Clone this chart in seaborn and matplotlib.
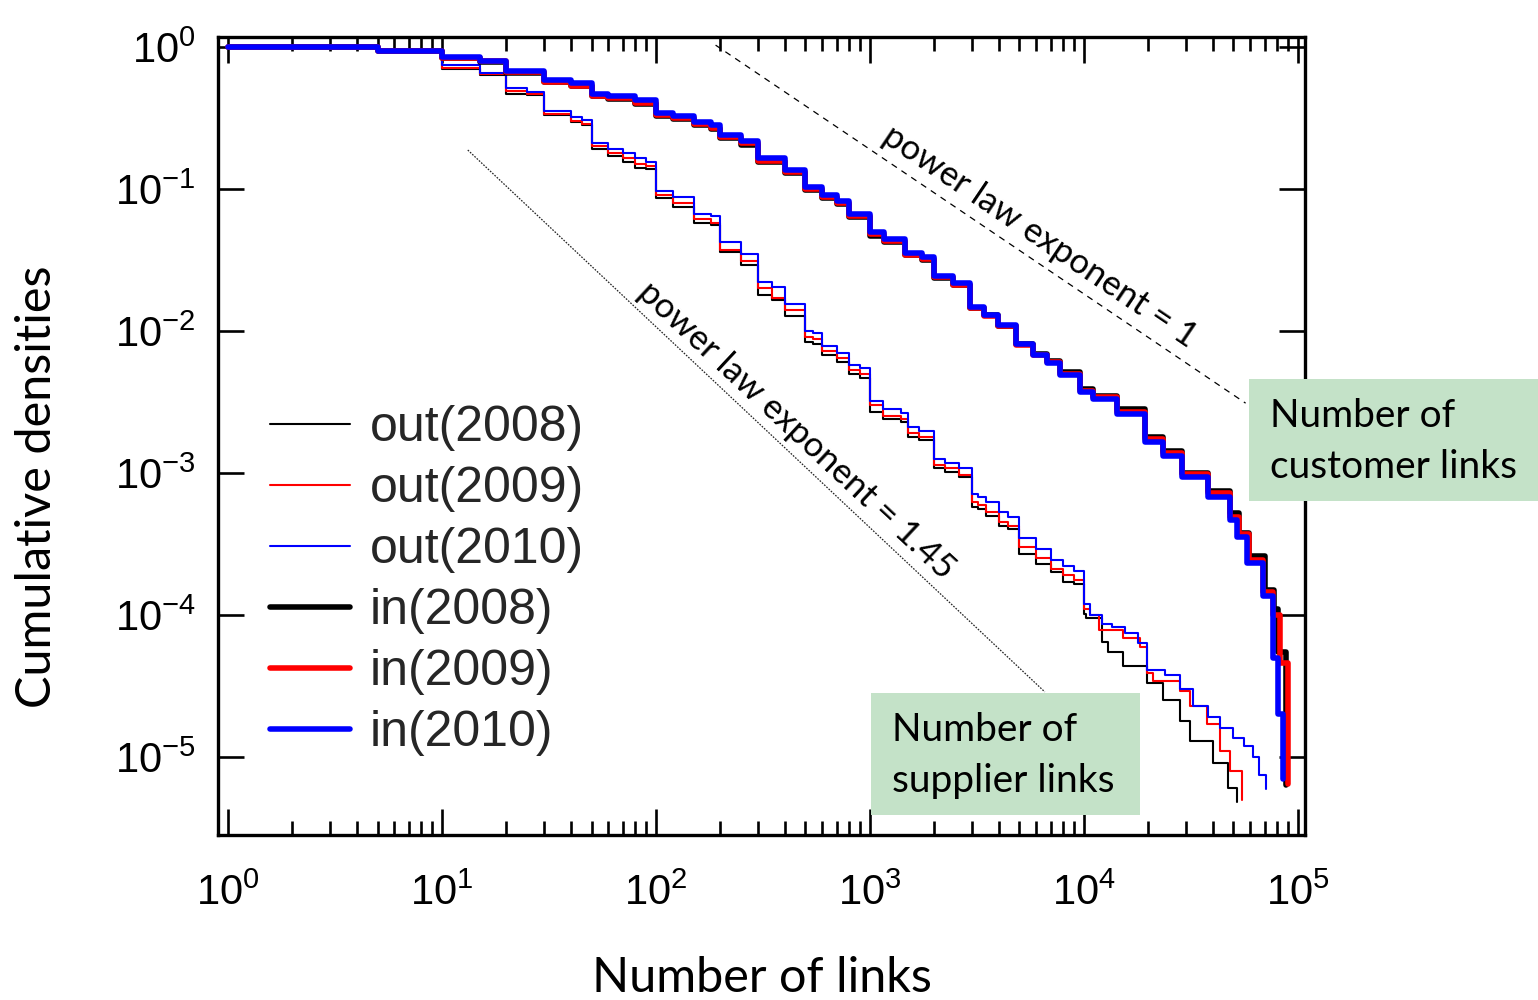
import numpy as np
import pandas as pd
import matplotlib
matplotlib.use("Agg")
import matplotlib.pyplot as plt
import seaborn as sns
from matplotlib import font_manager
from matplotlib.patches import Rectangle
from matplotlib.ticker import LogLocator, NullLocator

# ---------------------------------------------------------------------------
# Cumulative degree distributions of the supply-chain network (2008-2010)
# ---------------------------------------------------------------------------
# Number of customer links ("in"), shared step positions
IN_LINKS = [1, 5, 10, 15, 20, 30, 40, 50, 60, 80, 100, 120, 150, 180, 200, 250,
            300, 400, 500, 600, 700, 800, 1000, 1170, 1460, 1750, 2000, 2450,
            2950, 3400, 3950, 4800, 5800, 6700, 7700, 9600, 11000, 14300, 19300,
            23400, 28700, 38000, 48000]

IN_2008 = [1.0, 0.93, 0.835, 0.78, 0.655, 0.565, 0.53, 0.45, 0.43, 0.395, 0.325,
           0.31, 0.28, 0.265, 0.228, 0.205, 0.155, 0.129, 0.099, 0.087, 0.078,
           0.063, 0.047, 0.0425, 0.034, 0.0318, 0.0236, 0.021, 0.0145, 0.0129,
           0.0109, 0.0081, 0.0069, 0.0061, 0.0051, 0.0039, 0.0035, 0.0028,
           0.00178, 0.00142, 0.00100, 0.00075, 0.00052]
IN_2009 = [1.0, 0.93, 0.84, 0.79, 0.665, 0.57, 0.535, 0.455, 0.435, 0.40, 0.33,
           0.315, 0.285, 0.27, 0.232, 0.21, 0.158, 0.131, 0.100, 0.088, 0.079,
           0.064, 0.048, 0.043, 0.0342, 0.032, 0.0238, 0.0212, 0.0145, 0.0128,
           0.0108, 0.0080, 0.0068, 0.0060, 0.0050, 0.0038, 0.0034, 0.0027,
           0.00172, 0.00138, 0.00098, 0.00072, 0.00049]
IN_2010 = [1.0, 0.93, 0.846, 0.80, 0.68, 0.586, 0.555, 0.47, 0.45, 0.42, 0.344,
           0.327, 0.298, 0.282, 0.24, 0.218, 0.164, 0.136, 0.104, 0.091, 0.082,
           0.067, 0.050, 0.0445, 0.0354, 0.033, 0.0245, 0.0218, 0.0148, 0.0130,
           0.0110, 0.0081, 0.0068, 0.0059, 0.0049, 0.0037, 0.0033, 0.0026,
           0.00166, 0.00132, 0.00094, 0.00068, 0.00047]

# upper tails of the customer-link distributions
IN_TAIL_LINKS_2008 = [53000, 59000, 70000, 77000, 81000, 88500]
IN_TAIL_2008 = [3.8e-4, 2.6e-4, 1.5e-4, 1.1e-4, 5.5e-5, 6.3e-6]
IN_TAIL_LINKS_2009 = [53000, 59000, 69000, 76400, 82500, 90000]
IN_TAIL_2009 = [3.7e-4, 2.45e-4, 1.45e-4, 1.0e-4, 4.6e-5, 6.5e-6]
IN_TAIL_LINKS_2010 = [52000, 58000, 68500, 76400, 81000, 85500]
IN_TAIL_2010 = [3.55e-4, 2.33e-4, 1.35e-4, 5.0e-5, 2.0e-5, 7.0e-6]

# Number of supplier links ("out"), shared step positions
OUT_LINKS = [1, 5, 10, 15, 20, 25, 30, 40, 45, 50, 60, 70, 80, 90, 100, 120, 150,
             180, 200, 250, 300, 350, 400, 500, 540, 600, 700, 800, 900, 1000,
             1150, 1400, 1500, 1700, 2000, 2250, 2600, 3000, 3200, 3500, 4000,
             4400, 5000, 6000, 7000, 8000, 9000, 10000]

OUT_2008 = [1.0, 0.93, 0.70, 0.635, 0.465, 0.46, 0.33, 0.295, 0.28, 0.19, 0.17,
            0.155, 0.14, 0.138, 0.086, 0.075, 0.058, 0.056, 0.0357, 0.029, 0.018,
            0.0165, 0.0128, 0.0083, 0.0081, 0.0068, 0.0060, 0.0050, 0.0047,
            0.0027, 0.0024, 0.0023, 0.0018, 0.0017, 0.00108, 0.00102, 0.00093,
            0.00058, 0.00056, 0.00050, 0.00042, 0.00040, 0.00027, 0.00023,
            0.00020, 0.00017, 0.000165, 0.000102]
OUT_2009 = [1.0, 0.93, 0.708, 0.64, 0.49, 0.467, 0.337, 0.30, 0.287, 0.20, 0.18,
            0.166, 0.149, 0.145, 0.091, 0.080, 0.061, 0.058, 0.037, 0.031, 0.020,
            0.0171, 0.0141, 0.0091, 0.0088, 0.0072, 0.0064, 0.0053, 0.0050,
            0.0030, 0.0025, 0.0024, 0.0019, 0.0018, 0.00113, 0.00108, 0.00096,
            0.00062, 0.00059, 0.00053, 0.00045, 0.00042, 0.00030, 0.00025,
            0.00021, 0.00019, 0.000177, 0.000110]
OUT_2010 = [1.0, 0.93, 0.746, 0.66, 0.51, 0.485, 0.355, 0.323, 0.306, 0.21, 0.19,
            0.18, 0.164, 0.156, 0.096, 0.088, 0.067, 0.065, 0.042, 0.035, 0.022,
            0.0205, 0.0154, 0.0100, 0.0096, 0.0078, 0.0070, 0.0058, 0.0055,
            0.0032, 0.0028, 0.00264, 0.00212, 0.00198, 0.00126, 0.00117, 0.00109,
            0.00071, 0.00068, 0.00062, 0.00053, 0.00049, 0.00035, 0.000289,
            0.000245, 0.00022, 0.000205, 0.000120]

# upper tails of the supplier-link distributions
OUT_TAIL_LINKS_2008 = [10200, 12140, 13000, 15200, 19700, 23400, 28100, 31300,
                       40000, 47000, 52000]
OUT_TAIL_2008 = [9.5e-5, 6.4e-5, 5.5e-5, 4.4e-5, 3.3e-5, 2.5e-5, 1.8e-5, 1.3e-5,
                 9e-6, 6e-6, 4.8e-6]
OUT_TAIL_LINKS_2009 = [10660, 11800, 15200, 18300, 19700, 21000, 28100, 31300,
                       37600, 43200, 48000, 54700]
OUT_TAIL_2009 = [1.0e-4, 7.8e-5, 6.9e-5, 5.9e-5, 3.9e-5, 3.4e-5, 2.9e-5, 2.3e-5,
                 1.7e-5, 1.1e-5, 8e-6, 5e-6]
OUT_TAIL_LINKS_2010 = [10660, 12140, 13500, 15550, 17880, 19690, 23900, 28100,
                       32300, 38000, 43200, 50000, 56000, 61600, 66000, 70800]
OUT_TAIL_2010 = [1.0e-4, 8.7e-5, 8.2e-5, 7.5e-5, 6.3e-5, 4.1e-5, 3.8e-5, 3.0e-5,
                 2.3e-5, 1.9e-5, 1.6e-5, 1.35e-5, 1.2e-5, 1.0e-5, 7.5e-6, 5.9e-6]

# reference power-law guides (end points)
GUIDE_1_LINKS = [190, 57000]
GUIDE_1_DENS = [1.03, 0.0031]
GUIDE_145_LINKS = [13.2, 6570]
GUIDE_145_DENS = [0.188, 2.87e-5]

SERIES = [
    ("out(2008)", OUT_LINKS + OUT_TAIL_LINKS_2008, OUT_2008 + OUT_TAIL_2008, "black", 1.5),
    ("out(2009)", OUT_LINKS + OUT_TAIL_LINKS_2009, OUT_2009 + OUT_TAIL_2009, "#ff0000", 1.5),
    ("out(2010)", OUT_LINKS + OUT_TAIL_LINKS_2010, OUT_2010 + OUT_TAIL_2010, "#0000ff", 1.5),
    ("in(2008)", IN_LINKS + IN_TAIL_LINKS_2008, IN_2008 + IN_TAIL_2008, "black", 4.0),
    ("in(2009)", IN_LINKS + IN_TAIL_LINKS_2009, IN_2009 + IN_TAIL_2009, "#ff0000", 4.0),
    ("in(2010)", IN_LINKS + IN_TAIL_LINKS_2010, IN_2010 + IN_TAIL_2010, "#0000ff", 4.0),
]

# ---------------------------------------------------------------------------
sns.set_theme(style="ticks")
plt.rcParams["font.family"] = ["Liberation Sans", "DejaVu Sans"]
plt.rcParams["lines.scale_dashes"] = False
LABEL_FONT = ["Lato", "DejaVu Sans"]

# a condensed face for the legend and the x tick labels, when available
try:
    font_manager.findfont("Liberation Sans Narrow", fallback_to_default=False)
    HAS_NARROW = True
except ValueError:
    HAS_NARROW = False
NARROW = ["Liberation Sans Narrow", "Liberation Sans"] if HAS_NARROW else ["Liberation Sans"]
LEGEND_SIZE = 40 if HAS_NARROW else 36
LEGEND_SPACING = 0.08 if HAS_NARROW else 0.30
XTICK_SIZE = 34 if HAS_NARROW else 30

W, H = 1538, 1000
fig = plt.figure(figsize=(W / 100, H / 100), dpi=100)
fig.patch.set_facecolor("white")
ax = fig.add_axes([218 / W, 165 / H, 1087 / W, 798 / H])
ax.set_facecolor("white")
ax.set_xscale("log")
ax.set_yscale("log")

handles = []
for label, links, dens, color, lw in SERIES:
    df = pd.DataFrame({"links": links, "density": dens})
    sns.lineplot(data=df, x="links", y="density", ax=ax, color=color,
                 linewidth=lw, drawstyle="steps-post", estimator=None,
                 sort=False, label=label, legend=False)
    handles.append(ax.lines[-1])

# power-law guide lines
ax.plot(GUIDE_1_LINKS, GUIDE_1_DENS, color="black", lw=0.9,
        linestyle=(0, (4.5, 4.0)), zorder=1)
ax.plot(GUIDE_145_LINKS, GUIDE_145_DENS, color="#222222", lw=0.9,
        linestyle=(0, (1.2, 1.0)), zorder=1)

ax.text(6225, 0.0459, "power law exponent = 1", rotation=-34, rotation_mode="anchor",
        ha="center", va="center", fontsize=25, family=LABEL_FONT, color="black")
ax.text(451, 0.00201, "power law exponent = 1.45", rotation=-43, rotation_mode="anchor",
        ha="center", va="center", fontsize=25, family=LABEL_FONT, color="black")

ax.set_xlim(0.898, 1.08e5)
ax.set_ylim(2.82e-6, 1.175)

ax.xaxis.set_major_locator(LogLocator(base=10, numticks=12))
ax.xaxis.set_minor_locator(LogLocator(base=10, subs=np.arange(2, 10), numticks=40))
ax.yaxis.set_major_locator(LogLocator(base=10, numticks=12))
ax.yaxis.set_minor_locator(NullLocator())
ax.tick_params(which="both", direction="in", top=True, right=True,
               color="black", width=1.9)
ax.tick_params(which="major", length=19, labelcolor="black")
ax.tick_params(which="minor", length=10)
ax.tick_params(axis="x", pad=28, labelsize=XTICK_SIZE, labelfontfamily=NARROW)
ax.tick_params(axis="y", pad=16, labelsize=30)
for spine in ax.spines.values():
    spine.set_linewidth(2.4)
    spine.set_color("black")

ax.set_xlabel("Number of links", fontsize=35, family=LABEL_FONT, color="black")
ax.set_ylabel("Cumulative densities", fontsize=35, family=LABEL_FONT, color="black")
ax.xaxis.label.set(ha="center", va="center")
ax.yaxis.label.set(ha="center", va="center")
ax.xaxis.set_label_coords(0.5005, -0.179)
ax.yaxis.set_label_coords(-0.1665, 0.436)

ax.legend(handles=handles, labels=[s[0] for s in SERIES], loc="upper left",
          bbox_to_anchor=(270 / W, 1 - 405 / H), bbox_transform=fig.transFigure,
          frameon=False, borderpad=0, borderaxespad=0,
          handlelength=57.6 / LEGEND_SIZE, handletextpad=14.4 / LEGEND_SIZE,
          labelspacing=LEGEND_SPACING,
          prop={"family": NARROW, "size": LEGEND_SIZE})

# labelled boxes for the two families of curves
BOX_GREEN = "#c4e2c8"
for (x0, y0, w, h), lines in [
    ((1249, 379, 289, 122), ["Number of", "customer links"]),
    ((871, 693, 269, 122), ["Number of", "supplier links"]),
]:
    fig.add_artist(Rectangle((x0 / W, 1 - (y0 + h) / H), w / W, h / H,
                             transform=fig.transFigure, facecolor=BOX_GREEN,
                             edgecolor="none", zorder=5))
    for i, txt in enumerate(lines):
        fig.text((x0 + 21) / W, 1 - (y0 + 48 + 51 * i) / H, txt, ha="left",
                 va="baseline", fontsize=28, family=LABEL_FONT, color="black",
                 zorder=6)

fig.savefig("out.png", dpi=100, facecolor="white")
